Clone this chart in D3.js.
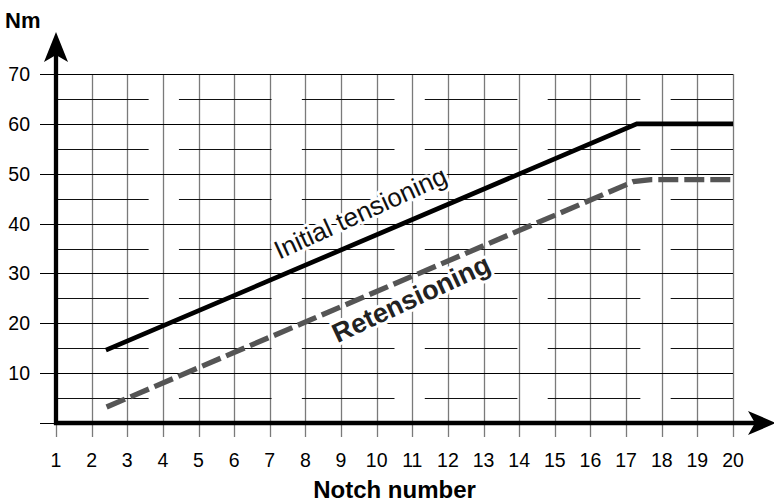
<!DOCTYPE html>
<html>
<head>
<meta charset="utf-8">
<script src="https://cdn.jsdelivr.net/npm/d3@7"></script>
<style>
  html, body { margin: 0; padding: 0; background: #fff; }
  svg { display: block; font-family: "Liberation Sans", Arial, Helvetica, sans-serif; }
</style>
</head>
<body>
<svg id="chart" width="774" height="503"></svg>
<script>
// ---- data ----
const notches = d3.range(1, 21);                 // x categories / tick labels
const torqueTicks = [10, 20, 30, 40, 50, 60, 70]; // y tick labels
const midTicks = [5, 15, 25, 35, 45, 55, 65];     // intermediate grid rows
// intermediate grid rows are drawn as broken segments (x ranges in notch units)
const midSegments = [[1, 3.6], [4.45, 7.05], [7.9, 10.5], [11.35, 13.95], [14.8, 17.4], [18.25, 20]];
const initialX = [2.4, 17.3, 20];
const initialY = [14.6, 60, 60];
const retensionX = [2.42, 17.2, 17.7, 20];
const retensionY = [3.2, 48.4, 48.8, 48.8];

// ---- layout ----
const svg = d3.select("#chart");
const x = d3.scaleLinear().domain([1, 20]).range([56, 733]);
const y = d3.scaleLinear().domain([0, 70]).range([423, 74]);
const px = v => Math.round(x(v)) + 0.5;
const py = v => Math.round(y(v)) + 0.5;

const grid = svg.append("g");
grid.selectAll("line.v").data(notches).join("line")
  .attr("x1", d => px(d)).attr("x2", d => px(d))
  .attr("y1", y(70)).attr("y2", y(0) + 14)
  .attr("stroke", "#7a7a7a").attr("stroke-width", 1.3);
grid.selectAll("line.h").data(torqueTicks).join("line")
  .attr("x1", 40).attr("x2", x(20))
  .attr("y1", d => py(d)).attr("y2", d => py(d))
  .attr("stroke", "#000").attr("stroke-width", 1);
const midData = [];
midTicks.forEach(t => midSegments.forEach(s => midData.push({t, s})));
grid.selectAll("line.m").data(midData).join("line")
  .attr("x1", d => x(d.s[0])).attr("x2", d => x(d.s[1]))
  .attr("y1", d => py(d.t)).attr("y2", d => py(d.t))
  .attr("stroke", "#111").attr("stroke-width", 1);
grid.append("line").attr("x1", 40).attr("x2", x(1)).attr("y1", py(0)).attr("y2", py(0))
  .attr("stroke", "#000");

// ---- series ----
const line = d3.line().x(d => x(d[0])).y(d => y(d[1]));
svg.append("path")
  .datum(initialX.map((v, i) => [v, initialY[i]]))
  .attr("d", line).attr("fill", "none").attr("stroke", "#000")
  .attr("stroke-width", 4.7).attr("stroke-linejoin", "miter");
svg.append("path")
  .datum(retensionX.map((v, i) => [v, retensionY[i]]))
  .attr("d", line).attr("fill", "none").attr("stroke", "#555")
  .attr("stroke-width", 5.3).attr("stroke-dasharray", "20,6");

// ---- axes ----
svg.append("line").attr("x1", x(1)).attr("x2", x(1)).attr("y1", y(0) + 2).attr("y2", 45)
  .attr("stroke", "#000").attr("stroke-width", 4.3);
svg.append("path").attr("d", `M${x(1)},32 L${x(1) + 12},62 L${x(1)},55 L${x(1) - 12},62 Z`).attr("fill", "#000");
svg.append("line").attr("x1", x(1) - 2).attr("x2", 760).attr("y1", y(0)).attr("y2", y(0))
  .attr("stroke", "#000").attr("stroke-width", 4.3);
svg.append("path").attr("d", `M776,${y(0)} L748,${y(0) - 12} L755,${y(0)} L748,${y(0) + 12} Z`).attr("fill", "#000");

// tick labels
svg.selectAll("text.yt").data(torqueTicks).join("text")
  .attr("x", 30).attr("y", d => y(d) + 7).attr("text-anchor", "end")
  .attr("font-size", 19.5).attr("fill", "#000").text(d => d);
svg.selectAll("text.xt").data(notches).join("text")
  .attr("x", d => x(d)).attr("y", 467).attr("text-anchor", "middle")
  .attr("font-size", 19.5).attr("fill", "#000").text(d => d);

// axis titles
svg.append("text").attr("x", 5).attr("y", 28).attr("font-size", 22).attr("font-weight", "bold").text("Nm");
svg.append("text").attr("x", x(10.5)).attr("y", 498).attr("text-anchor", "middle")
  .attr("font-size", 24).attr("font-weight", "bold").text("Notch number");

// series labels
function label(txt, cx, cy, ang, bold, size) {
  svg.append("text")
    .attr("transform", `translate(${cx},${cy}) rotate(${ang})`)
    .attr("text-anchor", "middle")
    .attr("font-size", size).attr("font-weight", bold ? "bold" : "normal")
    .attr("fill", bold ? "#222" : "#111")
    .attr("stroke", "#fff").attr("stroke-width", 6).attr("paint-order", "stroke")
    .attr("stroke-linejoin", "round")
    .text(txt);
}
label("Initial tensioning", 364, 221, -24.5, false, 26);
label("Retensioning", 415, 307, -25, true, 27);
</script>
</body>
</html>
